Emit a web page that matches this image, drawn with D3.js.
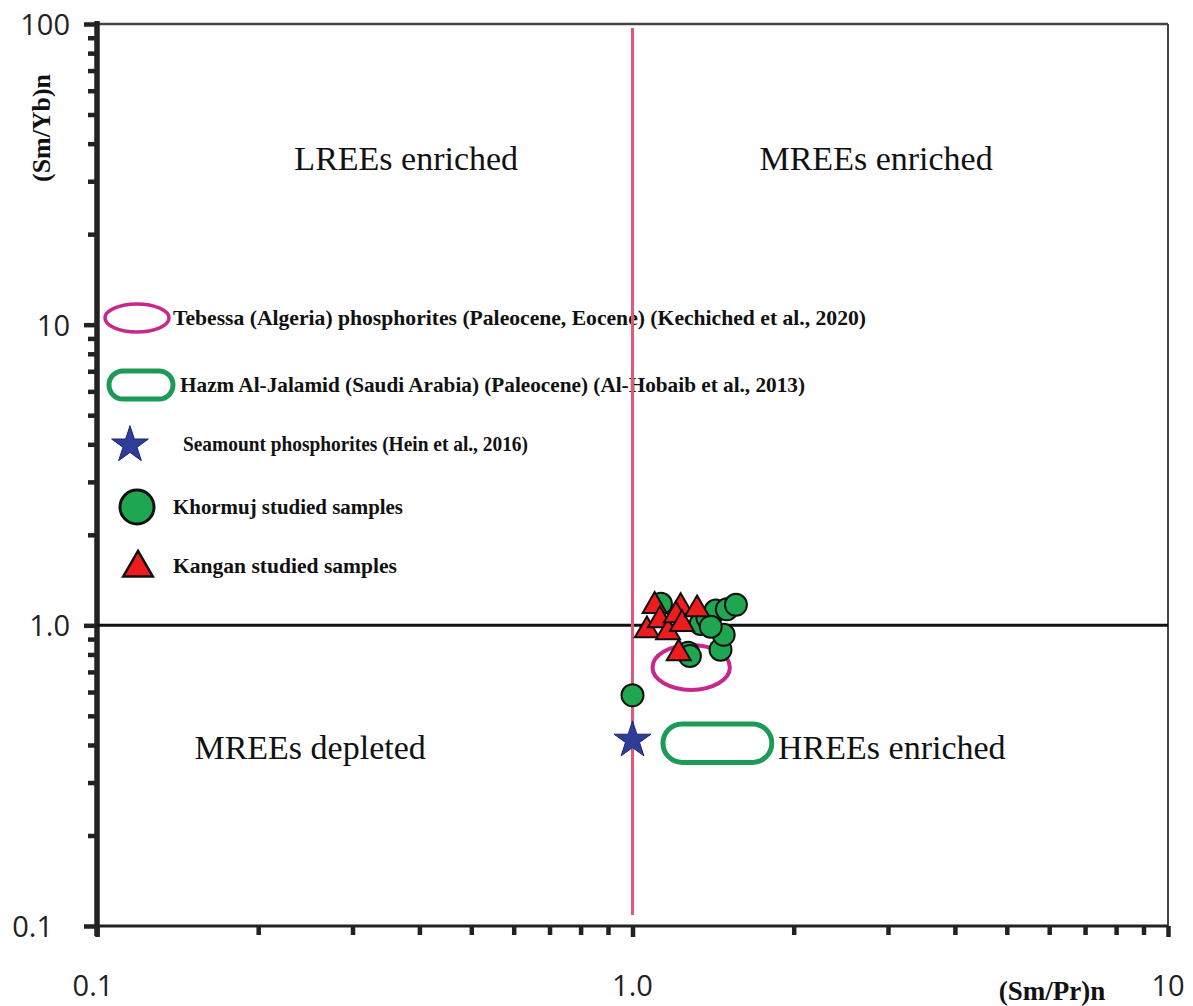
<!DOCTYPE html>
<html>
<head>
<meta charset="utf-8">
<script src="https://cdn.jsdelivr.net/npm/d3@7"></script>
<style>
  html, body { margin: 0; padding: 0; background: #fff; }
  svg { display: block; }
</style>
</head>
<body>
<svg id="chart" width="1193" height="1006"></svg>
<script>
// (Sm/Pr)n vs (Sm/Yb)n discrimination plot

// Khormuj samples: [(Sm/Pr)n, (Sm/Yb)n]
const khormujX = [1.00, 1.13, 1.27, 1.28, 1.34, 1.38, 1.43, 1.46, 1.48, 1.50, 1.56, 1.40];
const khormujY = [0.585, 1.18, 0.81, 0.79, 1.01, 1.06, 1.12, 0.83, 0.93, 1.13, 1.17, 0.99];

// Kangan samples
const kanganX = [1.10, 1.064, 1.125, 1.165, 1.23, 1.205, 1.237, 1.32, 1.22];
const kanganY = [1.16, 0.963, 1.04, 0.948, 1.15, 1.08, 1.01, 1.13, 0.807];

// Seamount phosphorites
const seamountX = [1.0];
const seamountY = [0.415];

// Field outlines: [min, max] ranges
const tebessaX = [1.09, 1.52];
const tebessaY = [0.61, 0.86];
const hazmX = [1.14, 1.82];
const hazmY = [0.35, 0.47];

// Axis ticks
const xMajor = [0.1, 1, 10];
const xMajorLabels = ["0.1", "1.0", "10"];
const yMajor = [0.1, 1, 10, 100];
const yMajorLabels = ["0.1", "1.0", "10", "100"];
const minorMult = [2, 3, 4, 5, 6, 7, 8, 9];

// Quadrant names
const quadrantNames = ["LREEs enriched", "MREEs enriched", "MREEs depleted", "HREEs enriched"];

// Legend entries
const legendLabels = [
  "Tebessa (Algeria) phosphorites (Paleocene, Eocene) (Kechiched et al., 2020)",
  "Hazm Al-Jalamid (Saudi Arabia) (Paleocene) (Al-Hobaib et al., 2013)",
  "Seamount phosphorites (Hein et al., 2016)",
  "Khormuj studied samples",
  "Kangan studied samples"
];

const svg = d3.select("#chart");
const pLeft = 97, pRight = 1168, pTop = 24, pBottom = 926;

const x = d3.scaleLog().domain([0.1, 10]).range([pLeft, pRight]);
const y = d3.scaleLog().domain([0.1, 100]).range([pBottom, pTop]);

const serif = "'Liberation Serif', 'Times New Roman', serif";
const sans = "'Open Sans', 'Liberation Sans', sans-serif";

const COL_GREEN = "#1fa650";
const COL_RED = "#ee1c1c";
const COL_STAR = "#2f3c98";
const COL_TEB = "#c8288c";
const COL_HAZM = "#1d9a58";
const COL_VLINE = "#e0587a";

const minorVals = base => base.slice(0, -1).flatMap(b => minorMult.map(m => +(b * m).toPrecision(3)));

// Frame: top and right borders
svg.append("line").attr("x1", pLeft).attr("x2", pRight).attr("y1", pTop).attr("y2", pTop)
  .attr("stroke", "#444").attr("stroke-width", 2.5);
svg.append("line").attr("x1", pRight).attr("x2", pRight).attr("y1", pTop).attr("y2", pBottom)
  .attr("stroke", "#444").attr("stroke-width", 2);

// Bottom axis
const xAxisMinor = d3.axisBottom(x).tickValues(minorVals(xMajor)).tickSize(9).tickFormat("");
const gxm = svg.append("g").attr("transform", `translate(0,${pBottom})`).call(xAxisMinor);
const xAxisMajor = d3.axisBottom(x).tickValues(xMajor).tickSize(11).tickFormat("");
const gxM = svg.append("g").attr("transform", `translate(0,${pBottom})`).call(xAxisMajor);
[gxm, gxM].forEach(g => {
  g.select(".domain").remove();
  g.selectAll(".tick line").attr("stroke", "#222").attr("stroke-width", 4.5);
});
svg.append("line").attr("x1", pLeft).attr("x2", pRight).attr("y1", pBottom).attr("y2", pBottom)
  .attr("stroke", "#222").attr("stroke-width", 3);

// Left axis
const yAxisMinor = d3.axisLeft(y).tickValues(minorVals(yMajor)).tickSize(9).tickFormat("");
const gym = svg.append("g").attr("transform", `translate(${pLeft},0)`).call(yAxisMinor);
const yAxisMajor = d3.axisLeft(y).tickValues(yMajor).tickSize(13).tickFormat("");
const gyM = svg.append("g").attr("transform", `translate(${pLeft},0)`).call(yAxisMajor);
[gym, gyM].forEach(g => {
  g.select(".domain").remove();
  g.selectAll(".tick line").attr("stroke", "#222").attr("stroke-width", 4.5);
});
svg.append("line").attr("x1", pLeft).attr("x2", pLeft).attr("y1", pTop - 3).attr("y2", pBottom + 10)
  .attr("stroke", "#222").attr("stroke-width", 5.5);

// Tick labels
svg.append("g").selectAll("text").data(xMajor).join("text")
  .attr("x", d => x(d) - (d === 0.1 ? 4 : 0))
  .attr("y", 996)
  .attr("text-anchor", "middle")
  .attr("font-family", sans).attr("font-size", 29).attr("fill", "#222")
  .text((d, i) => xMajorLabels[i]);

svg.append("g").selectAll("text").data(yMajor).join("text")
  .attr("x", d => d === 0.1 ? 53 : 70)
  .attr("y", d => y(d) + 11)
  .attr("text-anchor", "end")
  .attr("font-family", sans).attr("font-size", 29).attr("fill", "#222")
  .text((d, i) => yMajorLabels[i]);

// Axis titles
svg.append("text")
  .attr("x", 1052).attr("y", 1000)
  .attr("text-anchor", "middle")
  .attr("font-family", serif).attr("font-weight", "bold").attr("font-size", 27).attr("fill", "#111")
  .text("(Sm/Pr)n");
svg.append("text")
  .attr("transform", "translate(50,128) rotate(-90)")
  .attr("text-anchor", "middle")
  .attr("font-family", serif).attr("font-weight", "bold").attr("font-size", 26).attr("fill", "#111")
  .attr("textLength", 108).attr("lengthAdjust", "spacingAndGlyphs")
  .text("(Sm/Yb)n");

// Horizontal divider at (Sm/Yb)n = 1
svg.append("line").attr("x1", pLeft).attr("x2", pRight).attr("y1", y(1)).attr("y2", y(1))
  .attr("stroke", "#111").attr("stroke-width", 3);

// Quadrant names, anchored at (Sm/Pr)n, (Sm/Yb)n positions
const qPos = [[0.378, 35.7], [2.85, 35.7], [0.25, 0.393], [3.05, 0.393]];
svg.append("g").selectAll("text").data(quadrantNames).join("text")
  .attr("x", (d, i) => x(qPos[i][0]))
  .attr("y", (d, i) => y(qPos[i][1]) + 12)
  .attr("text-anchor", "middle")
  .attr("font-family", serif).attr("font-size", 34).attr("fill", "#111")
  .text(d => d);

// Legend
const legendRows = [318, 385, 444, 507, 566];
const legendTextX = [173, 180, 183, 173, 173];
const legendTextW = [693, 625, 345, 230, 224];
const lg = svg.append("g");
lg.append("ellipse").attr("cx", 137).attr("cy", legendRows[0]).attr("rx", 32).attr("ry", 14)
  .attr("fill", "none").attr("stroke", COL_TEB).attr("stroke-width", 3.5);
lg.append("rect").attr("x", 109).attr("y", legendRows[1] - 14).attr("width", 64).attr("height", 28)
  .attr("rx", 14).attr("fill", "none").attr("stroke", COL_HAZM).attr("stroke-width", 5);
lg.append("path").attr("d", d3.symbol(d3.symbolStar, 420)())
  .attr("transform", `translate(130,${legendRows[2] + 1})`)
  .attr("fill", COL_STAR).attr("stroke", "#1c2470").attr("stroke-width", 1);
lg.append("circle").attr("cx", 137).attr("cy", legendRows[3]).attr("r", 17)
  .attr("fill", COL_GREEN).attr("stroke", "#111").attr("stroke-width", 3);
lg.append("path").attr("d", d3.symbol(d3.symbolTriangle, 380)())
  .attr("transform", `translate(138,${legendRows[4] + 2})`)
  .attr("fill", COL_RED).attr("stroke", "#111").attr("stroke-width", 2.5);
lg.selectAll("text").data(legendLabels).join("text")
  .attr("x", (d, i) => legendTextX[i])
  .attr("y", (d, i) => legendRows[i] + 7)
  .attr("textLength", (d, i) => legendTextW[i]).attr("lengthAdjust", "spacingAndGlyphs")
  .attr("font-family", serif).attr("font-weight", "bold").attr("font-size", 21).attr("fill", "#111")
  .text(d => d);

// Vertical divider at (Sm/Pr)n = 1
svg.append("line").attr("x1", x(1)).attr("x2", x(1)).attr("y1", 28).attr("y2", 915)
  .attr("stroke", COL_VLINE).attr("stroke-width", 3);

// Reference fields
svg.append("ellipse")
  .attr("cx", (x(tebessaX[0]) + x(tebessaX[1])) / 2)
  .attr("cy", (y(tebessaY[0]) + y(tebessaY[1])) / 2)
  .attr("rx", (x(tebessaX[1]) - x(tebessaX[0])) / 2)
  .attr("ry", (y(tebessaY[0]) - y(tebessaY[1])) / 2)
  .attr("fill", "none").attr("stroke", COL_TEB).attr("stroke-width", 4);
const hzH = y(hazmY[0]) - y(hazmY[1]);
svg.append("rect")
  .attr("x", x(hazmX[0])).attr("y", y(hazmY[1]))
  .attr("width", x(hazmX[1]) - x(hazmX[0])).attr("height", hzH)
  .attr("rx", hzH / 2)
  .attr("fill", "none").attr("stroke", COL_HAZM).attr("stroke-width", 5);

// Khormuj samples
svg.append("g").selectAll("circle").data(khormujX.map((v, i) => [v, khormujY[i]])).join("circle")
  .attr("cx", d => x(d[0])).attr("cy", d => y(d[1])).attr("r", 11)
  .attr("fill", COL_GREEN).attr("stroke", "#111").attr("stroke-width", 2);

// Kangan samples
svg.append("g").selectAll("path").data(kanganX.map((v, i) => [v, kanganY[i]])).join("path")
  .attr("d", d3.symbol(d3.symbolTriangle, 250)())
  .attr("transform", d => `translate(${x(d[0])},${y(d[1])})`)
  .attr("fill", COL_RED).attr("stroke", "#111").attr("stroke-width", 2);

// Seamount phosphorites
svg.append("g").selectAll("path").data(seamountX.map((v, i) => [v, seamountY[i]])).join("path")
  .attr("d", d3.symbol(d3.symbolStar, 420)())
  .attr("transform", d => `translate(${x(d[0])},${y(d[1])})`)
  .attr("fill", COL_STAR).attr("stroke", "#1c2470").attr("stroke-width", 1);
</script>
</body>
</html>
